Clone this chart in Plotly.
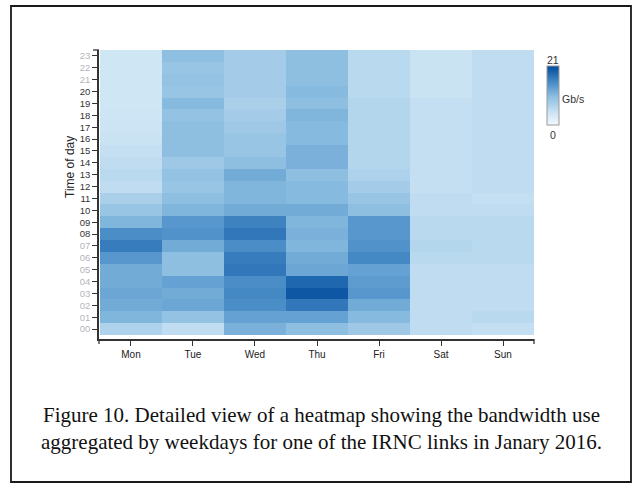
import plotly.graph_objects as go

days = ["Mon", "Tue", "Wed", "Thu", "Fri", "Sat", "Sun"]
hour_labels = ["%02d" % h for h in range(24)]
gray_hours = ["00", "01", "02", "03", "04", "05", "06", "07", "21", "22", "23"]

# Gb/s per hour (00 .. 23) for each weekday
mon = [7, 11, 12, 12.5, 12, 12, 14, 16.5, 15, 11, 9, 7.5, 5.5, 6, 5.5, 5, 4.5, 4.3, 4.2, 4, 4, 4, 4, 4]
tue = [5.5, 9.5, 12.5, 12, 13, 10, 10, 12, 14.5, 14, 11, 10, 9, 9.5, 8.5, 10, 10, 10, 9.5, 10.5, 9, 9.5, 9, 10]
wed = [11.5, 13, 15, 15.5, 15, 17, 16.5, 15, 17, 16, 12, 11, 11, 12, 10, 9, 9, 8.5, 8, 7.5, 8, 8, 8, 8]
thu = [10, 13, 17, 20, 18.5, 12.5, 12, 11, 11.5, 11, 12, 10.5, 10.5, 10, 11.5, 11.5, 10.5, 10.5, 11, 10, 10.5, 10, 10, 10]
fri = [8.5, 10.5, 12, 14, 13.5, 13, 15.5, 14.5, 14, 14, 10, 9, 8, 7, 6.5, 6.5, 6.5, 6.5, 6.5, 6.5, 6, 6, 6, 6]
sat = [5.5, 5.5, 5.5, 5.5, 5.5, 5.5, 6, 6.5, 6, 6, 5.5, 5.5, 5, 5, 5, 5, 5, 5, 5, 5, 4.5, 4.5, 4.5, 4.5]
sun = [5, 6, 5.5, 5.5, 5.5, 5.5, 6, 6, 6, 6, 5.5, 5, 5.5, 5.5, 5.5, 5.5, 5.5, 5.5, 5.5, 5.5, 5.5, 5.5, 5.5, 5.5]

zmin, zmax = 0, 21
caption1 = "Figure 10. Detailed view of a heatmap showing the bandwidth use"
caption2 = "aggregated by weekdays for one of the IRNC links in Janary 2016."

series = [mon, tue, wed, thu, fri, sat, sun]
z = [[series[d][h] for d in range(7)] for h in range(24)]

W_PX, H_PX = 637, 487
L, R, T, B = 99, 103, 50, 148
PW = W_PX - L - R
PH = H_PX - T - B


def px(x):
    return (x - L) / PW


def py(y):
    return 1 - (y - T) / PH


colorscale = [
    [0.0, "#f3f8fd"],
    [0.19, "#cfe6f5"],
    [0.48, "#8dbee1"],
    [0.71, "#4b8ec8"],
    [0.95, "#0d57a4"],
    [1.0, "#084f9c"],
]

fig = go.Figure(go.Heatmap(
    z=z,
    x=list(range(7)),
    y=list(range(24)),
    zmin=zmin, zmax=zmax,
    colorscale=colorscale,
    showscale=True,
    hoverinfo="skip",
    colorbar=dict(
        thickness=12, thicknessmode="pixels",
        len=59, lenmode="pixels",
        x=px(547), xanchor="left", xref="paper",
        y=py(95.5), yanchor="middle", yref="paper",
        xpad=0, ypad=0,
        outlinewidth=1, outlinecolor="#9a9a9a",
        showticklabels=False, ticks="",
    ),
))

ticktext = []
for lab in hour_labels:
    col = "#b4b4bc" if lab in gray_hours else "#333333"
    ticktext.append('<span style="color:%s">%s</span>' % (col, lab))

axis_col = "#333333"
fig.update_xaxes(
    range=[-0.516, 6.5],
    tickmode="array", tickvals=list(range(7)), ticktext=days,
    showline=True, linecolor=axis_col, linewidth=1.5,
    ticks="outside", ticklen=5, tickcolor=axis_col, tickwidth=1.3,
    tickfont=dict(family="Liberation Sans", size=10, color="#222222"),
    showgrid=False, zeroline=False,
)
fig.update_yaxes(
    range=[-0.837, 23.5],
    tickmode="array", tickvals=list(range(24)), ticktext=ticktext,
    showline=True, linecolor=axis_col, linewidth=1.5,
    ticks="outside", ticklen=5, tickcolor=axis_col, tickwidth=1.3,
    tickfont=dict(family="Liberation Sans", size=9.5, color="#333333"),
    showgrid=False, zeroline=False,
)

shapes = [
    # outer frame
    dict(type="rect", xref="paper", yref="paper",
         x0=px(11), x1=px(631), y0=py(482), y1=py(6),
         line=dict(color="#1a1a1a", width=1.8)),
    # axis end caps
    dict(type="line", xref="paper", yref="paper",
         x0=px(93), x1=px(L), y0=py(50), y1=py(50),
         line=dict(color=axis_col, width=1.3)),
    dict(type="line", xref="paper", yref="paper",
         x0=px(L), x1=px(L), y0=py(339), y1=py(344),
         line=dict(color=axis_col, width=1.3)),
    dict(type="line", xref="paper", yref="paper",
         x0=px(W_PX - R), x1=px(W_PX - R), y0=py(339), y1=py(344),
         line=dict(color=axis_col, width=1.3)),
]

annotations = [
    dict(text="Time of day", xref="paper", yref="paper",
         x=px(70), y=py(167), textangle=-90, showarrow=False,
         xanchor="center", yanchor="middle",
         font=dict(family="Liberation Sans", size=12, color="#222222")),
    dict(text="21", xref="paper", yref="paper", x=px(553), y=py(60),
         showarrow=False, xanchor="center", yanchor="middle",
         font=dict(family="Liberation Sans", size=10.5, color="#333333")),
    dict(text="0", xref="paper", yref="paper", x=px(553), y=py(135),
         showarrow=False, xanchor="center", yanchor="middle",
         font=dict(family="Liberation Sans", size=10.5, color="#333333")),
    dict(text="Gb/s", xref="paper", yref="paper", x=px(560), y=py(99),
         showarrow=False, xanchor="left", yanchor="middle",
         font=dict(family="Liberation Sans", size=10.5, color="#333333")),
    dict(text=caption1, xref="paper", yref="paper", x=px(321), y=py(415),
         showarrow=False, xanchor="center", yanchor="middle",
         font=dict(family="Liberation Serif", size=21, color="#111111")),
    dict(text=caption2, xref="paper", yref="paper", x=px(321), y=py(442),
         showarrow=False, xanchor="center", yanchor="middle",
         font=dict(family="Liberation Serif", size=21, color="#111111")),
]

fig.update_layout(
    width=W_PX, height=H_PX,
    margin=dict(l=L, r=R, t=T, b=B, pad=0),
    paper_bgcolor="white", plot_bgcolor="white",
    shapes=shapes, annotations=annotations,
    showlegend=False,
)

fig.write_html(
    "out.html",
    config={"displayModeBar": False},
    post_script="document.body.style.margin='0';document.body.style.overflow='hidden';",
)
